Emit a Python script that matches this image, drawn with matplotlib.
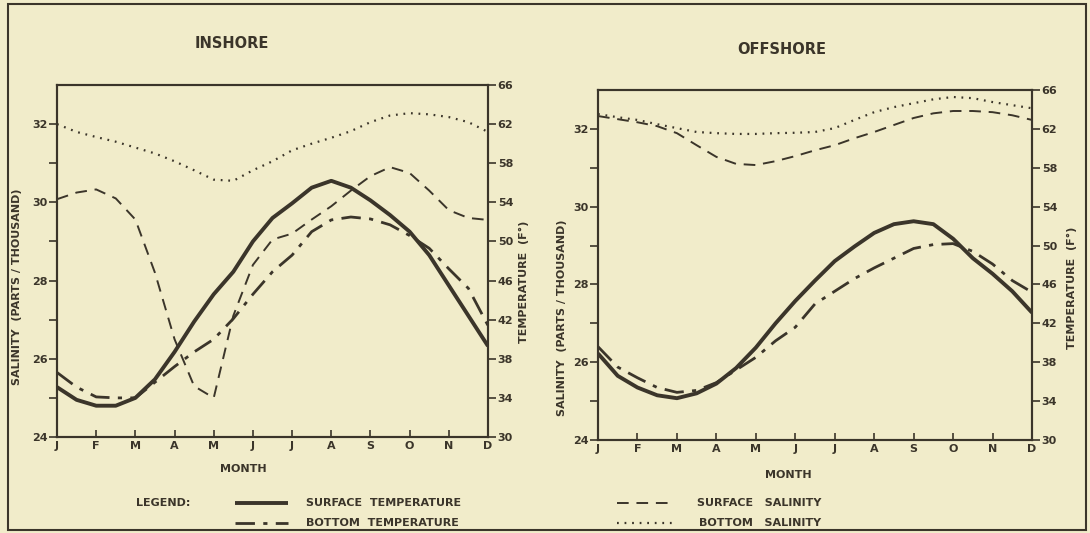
import numpy as np
import matplotlib
matplotlib.use("Agg")
import matplotlib.pyplot as plt
from matplotlib.patches import Rectangle

# half-month sample positions (J=0 ... D=11)
months = ["J", "F", "M", "A", "M", "J", "J", "A", "S", "O", "N", "D"]
pos = np.arange(23) / 2.0

# inshore
in_surf_temp = [35.1, 33.8, 33.2, 33.2, 34.0, 35.9, 38.7, 41.8, 44.6, 46.9, 50.0, 52.4,
                53.9, 55.5, 56.2, 55.5, 54.2, 52.7, 51.0, 48.6, 45.5, 42.4, 39.3]
in_bot_temp = [36.6, 35.1, 34.1, 34.0, 34.0, 35.6, 37.2, 38.7, 40.0, 42.1, 44.6, 46.9,
               48.6, 51.0, 52.2, 52.5, 52.3, 51.7, 50.6, 49.3, 47.2, 45.2, 41.4]
in_surf_sal = [30.08, 30.25, 30.33, 30.1, 29.56, 28.2, 26.5, 25.3, 25.0, 27.1, 28.4, 29.05,
               29.2, 29.56, 29.9, 30.3, 30.67, 30.9, 30.75, 30.3, 29.8, 29.6, 29.55]
in_bot_sal = [32.0, 31.8, 31.67, 31.55, 31.4, 31.25, 31.05, 30.82, 30.58, 30.55, 30.82, 31.05,
              31.33, 31.5, 31.65, 31.82, 32.05, 32.22, 32.28, 32.25, 32.18, 32.05, 31.8]

# offshore
off_surf_temp = [38.9, 36.6, 35.4, 34.6, 34.3, 34.8, 35.8, 37.4, 39.5, 42.0, 44.3, 46.4,
                 48.4, 49.9, 51.3, 52.2, 52.5, 52.2, 50.7, 48.7, 47.1, 45.3, 43.1]
off_bot_temp = [39.6, 37.5, 36.4, 35.4, 34.9, 35.1, 35.9, 37.2, 38.5, 40.2, 41.6, 44.0,
                45.3, 46.6, 47.7, 48.7, 49.7, 50.1, 50.2, 49.4, 48.1, 46.4, 45.2]
off_surf_sal = [32.33, 32.25, 32.17, 32.07, 31.89, 31.58, 31.28, 31.1, 31.07, 31.17, 31.3, 31.45,
                31.58, 31.76, 31.92, 32.1, 32.28, 32.4, 32.46, 32.46, 32.43, 32.35, 32.23]
off_bot_sal = [32.38, 32.3, 32.23, 32.12, 32.02, 31.92, 31.89, 31.87, 31.87, 31.89, 31.9, 31.92,
               32.02, 32.23, 32.43, 32.56, 32.66, 32.76, 32.82, 32.79, 32.69, 32.61, 32.53]

sal_ticks = [24, 26, 28, 30, 32]
temp_ticks = [30, 34, 38, 42, 46, 50, 54, 58, 62, 66]

BG = "#f1ecca"
INK = "#3b352a"
W, H = 1090, 533

plt.rcParams['font.family'] = ['DejaVu Sans']
fig = plt.figure(figsize=(W / 100, H / 100), dpi=100, facecolor=BG)

SOLID = dict(color=INK, lw=2.8, solid_capstyle='butt', solid_joinstyle='round')
DASHDOT = dict(color=INK, lw=2.0, linestyle=(0, (7, 3, 1.5, 3)))
DASHED = dict(color=INK, lw=1.4, linestyle=(0, (6, 4)))
DOTTED = dict(color=INK, lw=1.6, linestyle=(0, (0.8, 2.6)))


def panel(rect, s_temp, b_temp, s_sal, b_sal):
    ax = fig.add_axes(rect)
    ax.set_facecolor(BG)
    ax.set_xlim(0, 11)
    ax.set_ylim(24, 33)
    ax.set_xticks(range(12))
    ax.set_xticklabels(months)
    ax.set_yticks(sal_ticks)
    ax.set_yticks([25, 27, 29, 31], minor=True)
    ax.tick_params(axis='x', direction='in', length=5, width=1.2, colors=INK,
                   labelsize=8, pad=3)
    ax.tick_params(axis='y', which='both', direction='out', length=6, width=1.2,
                   colors=INK, labelsize=8, pad=1)
    for lab in ax.get_xticklabels() + ax.get_yticklabels():
        lab.set_fontweight('bold')
    for s in ax.spines.values():
        s.set_color(INK)
        s.set_linewidth(1.5)

    ax2 = ax.twinx()
    ax2.set_ylim(30, 66)
    ax2.set_yticks(temp_ticks)
    ax2.tick_params(axis='y', direction='out', length=6, width=1.2, colors=INK,
                    labelsize=8, pad=1)
    for lab in ax2.get_yticklabels():
        lab.set_fontweight('bold')
    for s in ax2.spines.values():
        s.set_color(INK)
        s.set_linewidth(1.5)

    ax.plot(pos, b_sal, **DOTTED)
    ax.plot(pos, s_sal, **DASHED)
    ax2.plot(pos, b_temp, **DASHDOT)
    ax2.plot(pos, s_temp, **SOLID)
    return ax, ax2


panel([57 / W, 1 - 437 / H, 431 / W, 352 / H],
      in_surf_temp, in_bot_temp, in_surf_sal, in_bot_sal)
panel([598 / W, 1 - 440 / H, 434 / W, 350 / H],
      off_surf_temp, off_bot_temp, off_surf_sal, off_bot_sal)


def txt(x, y, s, size=8.5, rot=0, ha='center'):
    fig.text(x / W, 1 - y / H, s, fontsize=size, color=INK, fontweight='bold',
             rotation=rot, ha=ha, va='center')


txt(232, 43, "INSHORE", size=10.5)
txt(782, 50, "OFFSHORE", size=10.5)
txt(17, 287, "SALINITY  (PARTS / THOUSAND)", size=8, rot=90)
txt(562, 318, "SALINITY  (PARTS / THOUSAND)", size=8, rot=90)
txt(524, 282, "TEMPERATURE  (F°)", size=8, rot=90)
txt(1072, 288, "TEMPERATURE  (F°)", size=8, rot=90)
txt(243, 469, "MONTH", size=8)
txt(788, 475, "MONTH", size=8)

# legend
txt(136, 503, "LEGEND:", size=8, ha='left')
txt(306, 503, "SURFACE  TEMPERATURE", size=8, ha='left')
txt(306, 523, "BOTTOM  TEMPERATURE", size=8, ha='left')
txt(697, 503, "SURFACE   SALINITY", size=8, ha='left')
txt(699, 523, "BOTTOM   SALINITY", size=8, ha='left')
for (x0, x1, y, sty) in [(235, 288, 503, SOLID), (235, 288, 523, DASHDOT),
                         (617, 673, 503, DASHED), (617, 675, 523, DOTTED)]:
    fig.add_artist(plt.Line2D([x0 / W, x1 / W], [1 - y / H, 1 - y / H],
                              transform=fig.transFigure, **sty))

# outer frame
fig.add_artist(Rectangle((8 / W, 1 - 530 / H), 1078 / W, 526 / H,
                         transform=fig.transFigure, fill=False,
                         edgecolor=INK, lw=1.5))

fig.savefig("out.png", dpi=100, facecolor=BG)
